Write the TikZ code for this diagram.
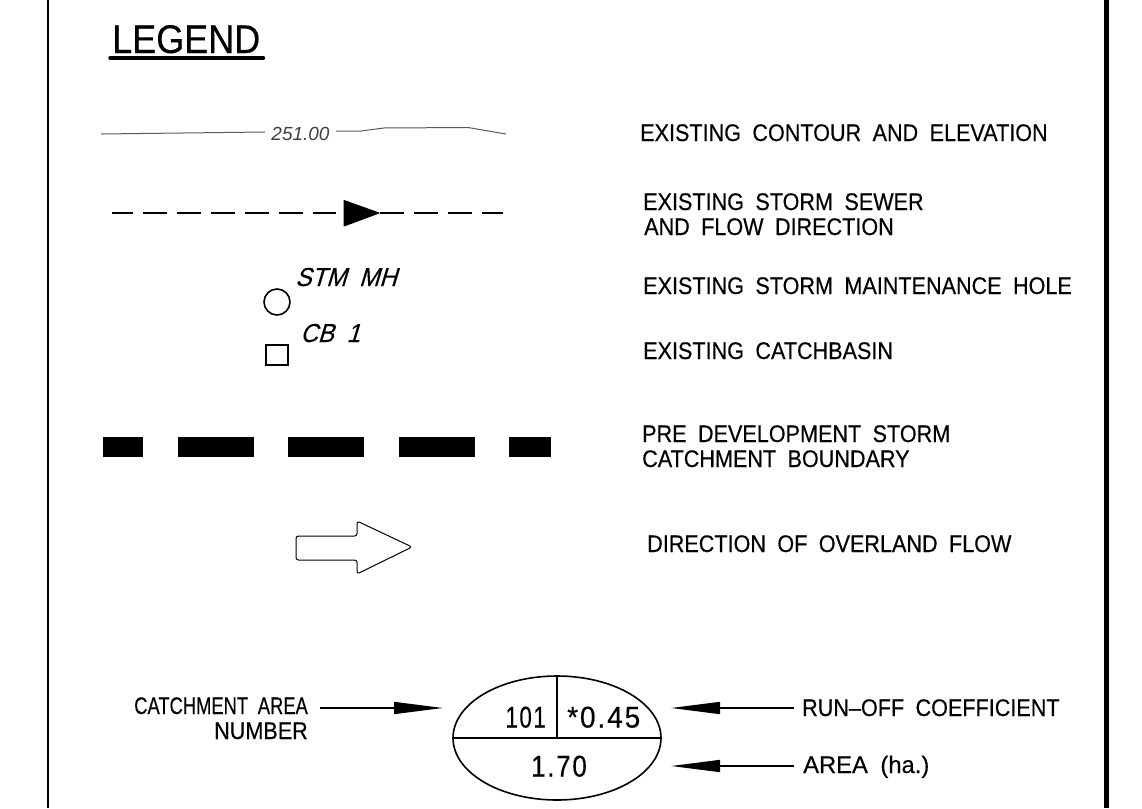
\documentclass[tikz,border=0pt]{standalone}
\usepackage{fontspec}
\setmainfont{Liberation Sans}
\newfontfamily\cadfont[FakeStretch=0.90,WordSpace=1.9,FakeBold=0.35]{Liberation Sans}
\newfontfamily\caditfont[FakeStretch=0.93,WordSpace=1.9,FakeSlant=0.3,FakeBold=0.2]{Liberation Sans}
\usetikzlibrary{arrows.meta,shapes.geometric}

\begin{document}
\begin{tikzpicture}[x=1pt,y=-1pt,
    cadtext/.style={anchor=base west,inner sep=0pt,
		font=\cadfont\fontsize{24}{28}\selectfont},
    cadright/.style={cadtext,anchor=base east},
    cadnum/.style={anchor=base,inner sep=0pt,
		font=\cadfont\addfontfeature{LetterSpace=6}\fontsize{30}{34}\selectfont},
    cadital/.style={anchor=base west,inner sep=0pt,
		font=\caditfont\fontsize{26}{30}\selectfont},
    boundary/.style={line width=20pt,dash pattern=on 76pt off 34.6pt,dash phase=36pt},
    sewer/.style={line width=1.2pt,dash pattern=on 24pt off 10pt},
    flowtip/.style={line width=1.5pt,-{Triangle[length=49pt,width=12pt]}},
    contour/.style={line width=1pt,black!65}
    ]
   \useasboundingbox (0,0) rectangle (1142,808);
%%% Sheet border
   \coordinate (bl1) at (48,0);
   \coordinate (bl2) at (48,808);
   \coordinate (br1) at (1106.5,0);
   \coordinate (br2) at (1106.5,808);
   \draw [line width=2.5pt] (bl1) -- (bl2);
   \draw [line width=5pt] (br1) -- (br2);
%%% Title
   \node [anchor=base west,inner sep=0pt,
	font=\cadfont\fontsize{40}{44}\selectfont] (title) at (112,53) {LEGEND};
   \draw [line width=3.5pt,line cap=round] ([xshift=-2pt,yshift=-5pt]title.base west) -- ([xshift=3pt,yshift=-5pt]title.base east);
%%% Contour
   \node [anchor=base,inner sep=0pt,black!75,font=\itshape\fontsize{19}{21}\selectfont] (elev) at (300.5,140) {251.00};
   \coordinate (cl) at (101,134);
   \coordinate (cr) at (506,134);
   \draw [contour] (cl) -- (265,132);
   \draw [contour] (336,131) -- (361,131) -- (384,128) -- (468,127.5) -- (cr);
   \node [cadtext] (t1) at (640,141) {EXISTING CONTOUR AND ELEVATION};
%%% Storm sewer
   \coordinate (sl) at (112,213);
   \coordinate (sm) at (336,213);
   \coordinate (sn) at (380,213);
   \coordinate (sr) at (503,213);
   \draw [sewer,dash phase=3pt] (sl) -- (sm);
   \draw [sewer] (sn) -- (sr);
   \fill [line join=round,draw,line width=1pt] (344,200.5) -- (379,213) -- (344,226) -- cycle;
   \node [cadtext] (t2) at (643,210) {EXISTING STORM SEWER};
   \node [cadtext] (t3) at (644,235) {AND FLOW DIRECTION};
%%% Maintenance hole and catchbasin
   \node [circle,draw,line width=1.6pt,minimum size=26pt,inner sep=0pt] (mh) at (277,302) {};
   \node [cadital] (mhl) at (295,286) {STM MH};
   \node [cadtext] (t4) at (643,294) {EXISTING STORM MAINTENANCE HOLE};
   \node [rectangle,draw,line width=1.6pt,minimum width=22pt,minimum height=20pt,inner sep=0pt] (cb) at (277,355) {};
   \node [cadital] (cbl) at (300,342) {CB 1};
   \node [cadtext] (t5) at (643,359) {EXISTING CATCHBASIN};
%%% Catchment boundary
   \coordinate (bd1) at (103,447);
   \coordinate (bd2) at (551,447);
   \draw [boundary] (bd1) -- (bd2);
   \node [cadtext] (t6) at (642,442) {PRE DEVELOPMENT STORM};
   \node [cadtext] (t7) at (642,467) {CATCHMENT BOUNDARY};
%%% Overland flow
   \draw [line width=1pt,rounded corners=2.5pt] (296,536) -- (357,536) -- (357,521) -- (412,547)
	-- (357,574) -- (357,560) -- (296,560) -- cycle;
   \node [cadtext] (t8) at (647,552) {DIRECTION OF OVERLAND FLOW};
%%% Catchment tag
   \node [ellipse,draw,line width=1.6pt,minimum width=208pt,minimum height=124pt,inner sep=0pt] (tag) at (557,738) {};
   \draw [line width=1.6pt] (tag.west) -- (tag.east);
   \draw [line width=1.6pt] (tag.north) -- (tag.center);
   \node [cadnum,anchor=base east,xscale=.83,transform shape] (num) at (546,727.5) {101};
   \node [cadnum,anchor=base west,xscale=1.04,transform shape] (coef) at (567,727.5) {*0.45};
   \node [cadnum,xscale=.96,transform shape] (area) at (559,776.5) {1.70};
   \node [cadright,xscale=.85,transform shape] (t9) at (308,714) {CATCHMENT\ AREA};
   \node [cadright] (t10) at (308,739) {NUMBER};
   \node [cadtext] (t11) at (802,716) {RUN–OFF COEFFICIENT};
   \node [cadtext,xscale=1.1,transform shape] (t12) at (803,773) {AREA (ha.)};
   \coordinate (a1) at (320,708);
   \coordinate (a2) at (443,708);
   \coordinate (b1) at (794,708);
   \coordinate (b2) at (671,708);
   \coordinate (c1) at (794,766);
   \coordinate (c2) at (671,766);
   \draw [flowtip] (a1) -- (a2);
   \draw [flowtip] (b1) -- (b2);
   \draw [flowtip] (c1) -- (c2);
\end{tikzpicture}
\end{document}
